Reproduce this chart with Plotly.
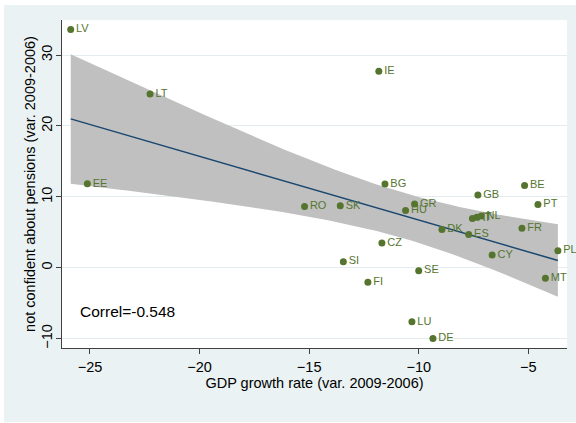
import numpy as np
import plotly.graph_objects as go

# ---- data ----
countries = ["LV", "LT", "EE", "IE", "BG", "GB", "BE", "PT", "RO", "SK", "GR", "HU",
             "AT", "IT", "NL", "DK", "ES", "FR", "CZ", "CY", "PL", "SI", "SE", "FI",
             "MT", "LU", "DE"]
gdp_growth = [-25.88, -22.26, -25.12, -11.82, -11.54, -7.30, -5.17, -4.56, -15.21, -13.58,
              -10.19, -10.60, -7.55, -7.35, -7.15, -8.94, -7.72, -5.29, -11.68, -6.65,
              -3.65, -13.44, -10.00, -12.32, -4.22, -10.31, -9.35]
not_confident = [33.6, 24.5, 11.84, 27.7, 11.8, 10.24, 11.6, 8.9, 8.63, 8.73,
                 9.0, 8.06, 6.95, 7.1, 7.3, 5.37, 4.67, 5.57, 3.49, 1.8,
                 2.4, 0.85, -0.42, -2.07, -1.5, -7.64, -9.99]
x_ticks = [-25, -20, -15, -10, -5]
y_ticks = [-10, 0, 10, 20, 30]
correl_text = "Correl=-0.548"

GREEN = "#55752F"
NAVY = "#1A476F"
BAND = "#C0C0C0"
BG = "#EAF2F3"
AXIS = "#404040"
FONT = "Liberation Sans, Arial, sans-serif"

# ---- linear fit with 95% CI of the mean (as Stata lfitci) ----
x = np.array(gdp_growth)
y = np.array(not_confident)
n = len(x)
b, a = np.polyfit(x, y, 1)
resid = y - (a + b * x)
s = np.sqrt(np.sum(resid ** 2) / (n - 2))
xbar = x.mean()
sxx = np.sum((x - xbar) ** 2)
t_crit = 2.0595  # t(0.975, df=25)
xg = np.linspace(x.min(), x.max(), 100)
yg = a + b * xg
se = s * np.sqrt(1.0 / n + (xg - xbar) ** 2 / sxx)
upper = yg + t_crit * se
lower = yg - t_crit * se

fig = go.Figure()
fig.add_trace(go.Scatter(
    x=np.concatenate([xg, xg[::-1]]), y=np.concatenate([upper, lower[::-1]]),
    fill="toself", fillcolor=BAND, line=dict(width=0), mode="lines",
    hoverinfo="skip", showlegend=False))
fig.add_trace(go.Scatter(x=xg, y=yg, mode="lines", line=dict(color=NAVY, width=1.5),
                         showlegend=False))
fig.add_trace(go.Scatter(
    x=gdp_growth, y=not_confident, mode="markers+text", text=countries,
    textposition="middle right", cliponaxis=False,
    textfont=dict(family=FONT, size=11, color=GREEN),
    marker=dict(color=GREEN, size=7), showlegend=False))

fig.add_annotation(x=-25.55, y=-6.24, xref="x", yref="y", text=correl_text,
                   showarrow=False, xanchor="left", yanchor="middle",
                   font=dict(family=FONT, size=15.5, color="black"))

# white page border around the grey graph region
W0, W1 = 62.0, 567.0
H0, H1 = 20.0, 347.7
def px(p):
    return (p - W0) / (W1 - W0)
def py(p):
    return (H1 - p) / (H1 - H0)
fig.add_shape(type="rect", xref="paper", yref="paper", x0=px(-5), x1=px(4),
              y0=py(430), y1=py(-5), fillcolor="white", line=dict(width=0), layer="above")
fig.add_shape(type="rect", xref="paper", yref="paper", x0=px(-5), x1=px(580),
              y0=py(5), y1=py(-5), fillcolor="white", line=dict(width=0), layer="above")
fig.add_shape(type="rect", xref="paper", yref="paper", x0=px(-5), x1=px(580),
              y0=py(430), y1=py(422), fillcolor="white", line=dict(width=0), layer="above")

fig.update_layout(
    width=576, height=423,
    margin=dict(l=62, r=9, t=20, b=75.3, autoexpand=False),
    paper_bgcolor=BG, plot_bgcolor="white",
    font=dict(family=FONT, size=14.5, color="black"),
    showlegend=False,
    xaxis=dict(range=[-26.277, -3.234], tickvals=x_ticks, showgrid=False, zeroline=False,
               showline=True, linecolor=AXIS, linewidth=1, ticks="outside", ticklen=5,
               tickcolor=AXIS, ticklabelstandoff=1, automargin=False,
               title=dict(text="GDP growth rate (var. 2009-2006)", standoff=0,
                          font=dict(size=14.5))),
    yaxis=dict(range=[-11.33, 34.94], tickvals=y_ticks, showgrid=True, gridcolor="#E3ECEE",
               gridwidth=1, zeroline=False, showline=True, linecolor=AXIS, linewidth=1,
               ticks="outside", ticklen=5, tickcolor=AXIS, tickangle=-90,
               ticklabelstandoff=-2, automargin=False,
               title=dict(text="not confident about pensions (var. 2009-2006)", standoff=0,
                          font=dict(size=14.5))),
)

fig.write_html("out.html", config={"displayModeBar": False},
               post_script="document.body.style.margin='0';")
